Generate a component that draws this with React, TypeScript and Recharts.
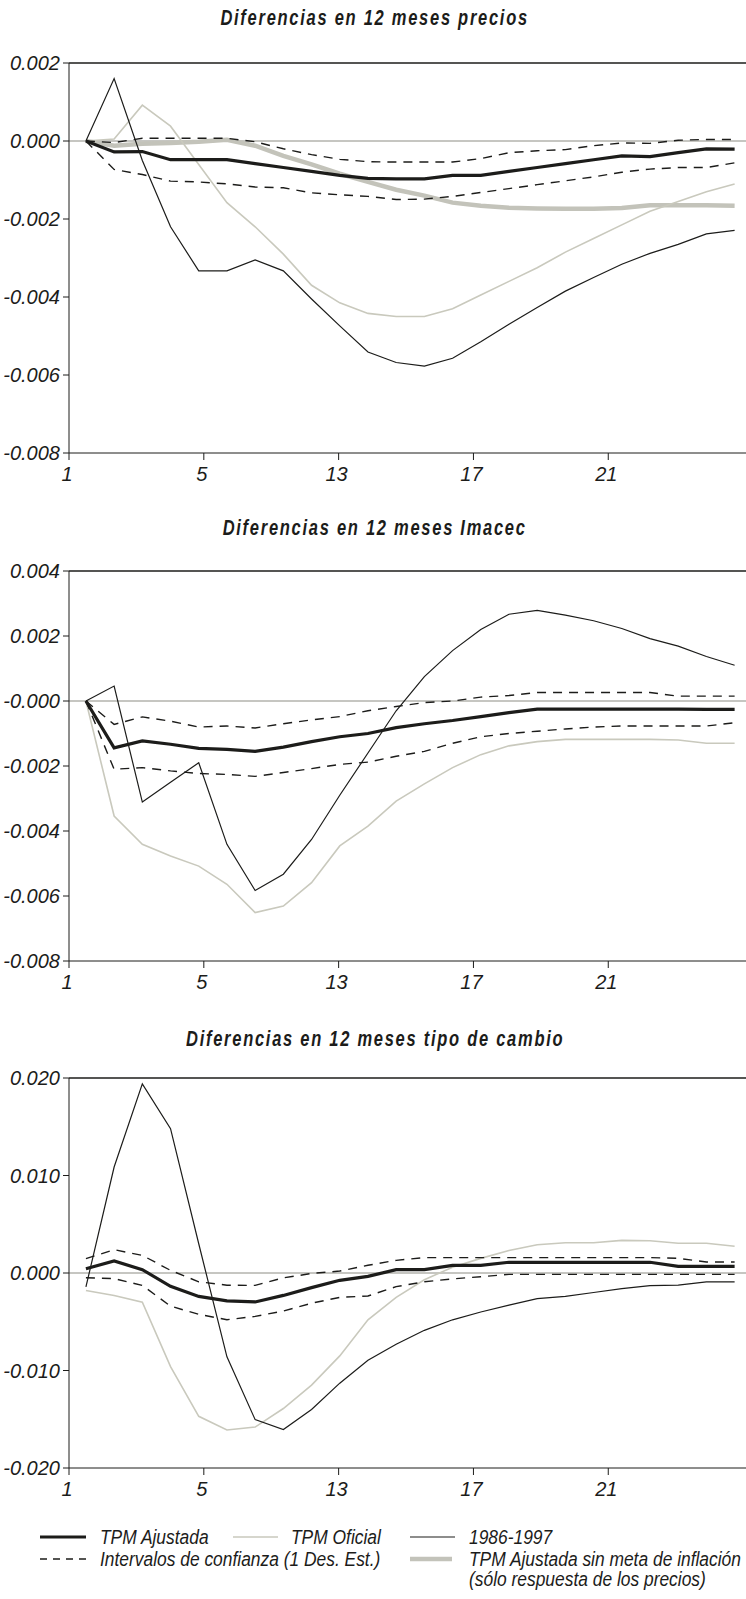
import { LineChart, Line, XAxis, YAxis, ReferenceLine } from "recharts";

// meses del horizonte de respuesta
const MESES = [1, 2, 3, 4, 5, 6, 7, 8, 9, 10, 11, 12, 13, 14, 15, 16, 17, 18, 19, 20, 21, 22, 23, 24];

// eje x: marcas y etiquetas tal como aparecen en el original
const X_TICKS = [0.4, 5.18, 9.96, 14.74, 19.52];
const X_TICK_LABELS = ["1", "5", "13", "17", "21"];

// --- Diferencias en 12 meses precios ---
const ajustada1 = [0, -0.00028, -0.00027, -0.00048, -0.00048, -0.00048, -0.00058, -0.00068, -0.00078, -0.00088, -0.00096, -0.00097, -0.00097, -0.00088, -0.00088, -0.00078, -0.00068, -0.00058, -0.00048, -0.00038, -0.0004, -0.0003, -0.0002, -0.00021];
const superior1 = [0, -0.00004, 0.00007, 0.00007, 0.00007, 0.00007, -0.00002, -0.0002, -0.00035, -0.00047, -0.00053, -0.00054, -0.00054, -0.00054, -0.00045, -0.0003, -0.00025, -0.00022, -0.00012, -0.00005, -0.00006, 0.00002, 0.00004, 0.00004];
const inferior1 = [0, -0.00073, -0.00086, -0.00103, -0.00105, -0.0011, -0.00118, -0.0012, -0.00133, -0.00138, -0.00142, -0.0015, -0.00149, -0.00142, -0.00132, -0.00122, -0.00112, -0.00102, -0.00092, -0.0008, -0.00072, -0.00068, -0.00068, -0.00056];
const oficial1 = [0, 0.00005, 0.00092, 0.00038, -0.0006, -0.00158, -0.0022, -0.0029, -0.0037, -0.00415, -0.00442, -0.0045, -0.0045, -0.0043, -0.00395, -0.0036, -0.00325, -0.00285, -0.0025, -0.00215, -0.0018, -0.00155, -0.0013, -0.0011];
const periodo1 = [0, 0.0016, -0.0005, -0.0022, -0.00333, -0.00333, -0.00305, -0.00333, -0.00405, -0.00474, -0.00541, -0.00568, -0.00577, -0.00557, -0.00515, -0.0047, -0.00427, -0.00385, -0.0035, -0.00316, -0.00288, -0.00265, -0.00238, -0.00229];
const sinMeta1 = [0, -0.00012, -0.00007, -0.00005, -0.00002, 0.00003, -0.00012, -0.00038, -0.0006, -0.00084, -0.00105, -0.00125, -0.0014, -0.00158, -0.00166, -0.00171, -0.00173, -0.00174, -0.00174, -0.00172, -0.00165, -0.00165, -0.00165, -0.00166];
const yTicks1 = [0.002, 0, -0.002, -0.004, -0.006, -0.008];
const yLabels1 = ["0.002", "0.000", "-0.002", "-0.004", "-0.006", "-0.008"];

// --- Diferencias en 12 meses Imacec ---
const ajustada2 = [0, -0.00144, -0.00123, -0.00133, -0.00146, -0.00149, -0.00155, -0.00142, -0.00125, -0.0011, -0.001, -0.00082, -0.0007, -0.0006, -0.00048, -0.00036, -0.00025, -0.00025, -0.00025, -0.00025, -0.00025, -0.00025, -0.00026, -0.00026];
const superior2 = [0, -0.00072, -0.00049, -0.00062, -0.0008, -0.00077, -0.00083, -0.0007, -0.00058, -0.00048, -0.0003, -0.00017, -0.00005, 0, 0.00012, 0.00017, 0.00026, 0.00026, 0.00026, 0.00026, 0.00026, 0.00015, 0.00015, 0.00015];
const inferior2 = [0, -0.0021, -0.00205, -0.00215, -0.00223, -0.00226, -0.00232, -0.0022, -0.00208, -0.00195, -0.00188, -0.0017, -0.00155, -0.0013, -0.0011, -0.001, -0.00093, -0.00086, -0.0008, -0.00077, -0.00077, -0.00077, -0.00077, -0.00067];
const oficial2 = [0, -0.00354, -0.00441, -0.00477, -0.00508, -0.00564, -0.00651, -0.00631, -0.00559, -0.00446, -0.00385, -0.00308, -0.00255, -0.00205, -0.00165, -0.00138, -0.00125, -0.00118, -0.00118, -0.00118, -0.00118, -0.0012, -0.0013, -0.0013];
const periodo2 = [0, 0.00046, -0.00311, -0.0025, -0.0019, -0.00441, -0.00583, -0.00533, -0.00426, -0.0029, -0.0016, -0.0003, 0.00075, 0.00155, 0.0022, 0.00267, 0.00279, 0.00264, 0.00247, 0.00223, 0.00192, 0.00169, 0.00137, 0.0011];
const yTicks2 = [0.004, 0.002, 0, -0.002, -0.004, -0.006, -0.008];
const yLabels2 = ["0.004", "0.002", "-0.000", "-0.002", "-0.004", "-0.006", "-0.008"];

// --- Diferencias en 12 meses tipo de cambio ---
const ajustada3 = [0.00044, 0.00123, 0.00034, -0.00137, -0.0024, -0.00285, -0.00297, -0.0023, -0.0015, -0.00075, -0.00034, 0.00034, 0.00034, 0.00079, 0.00079, 0.0011, 0.0011, 0.0011, 0.0011, 0.0011, 0.0011, 0.00068, 0.00068, 0.00068];
const superior3 = [0.00147, 0.00239, 0.00181, 0.00027, -0.0009, -0.00125, -0.00127, -0.0005, -0.00005, 0.0002, 0.00079, 0.0013, 0.00158, 0.00158, 0.00158, 0.00158, 0.00158, 0.00158, 0.00158, 0.00158, 0.00158, 0.0015, 0.00113, 0.00113];
const inferior3 = [-0.00048, -0.00058, -0.00127, -0.0034, -0.00424, -0.00479, -0.00445, -0.0039, -0.0031, -0.0025, -0.00236, -0.0014, -0.0009, -0.0006, -0.00038, -0.00014, -0.00014, -0.00014, -0.00014, -0.00014, -0.00014, -0.00014, -0.00014, -0.00014];
const oficial3 = [-0.0018, -0.0023, -0.003, -0.0096, -0.0147, -0.0161, -0.0158, -0.0139, -0.0115, -0.0085, -0.0048, -0.0025, -0.0007, 0.0006, 0.0015, 0.0023, 0.0029, 0.0031, 0.0031, 0.00335, 0.0033, 0.00305, 0.00305, 0.00275];
const periodo3 = [-0.00143, 0.01087, 0.0194, 0.0148, 0.003, -0.0086, -0.01504, -0.01606, -0.014, -0.0113, -0.00895, -0.0073, -0.00588, -0.0048, -0.004, -0.0033, -0.00263, -0.0024, -0.002, -0.0016, -0.0013, -0.00125, -0.00092, -0.00092];
const yTicks3 = [0.02, 0.01, 0, -0.01, -0.02];
const yLabels3 = ["0.020", "0.010", "0.000", "-0.010", "-0.020"];

const FONT = "'Liberation Sans', Arial, sans-serif";
const INK = "#1c1c1a";
const OFICIAL = "#c9c9bd";
const SIN_META = "#c3c3ba";

const build = (a: number[], s: number[], i: number[], o: number[], p: number[], m?: number[]) =>
  MESES.map((x, k) => ({ x, ajustada: a[k], sup: s[k], inf: i[k], oficial: o[k], periodo: p[k], sinMeta: m ? m[k] : undefined }));

const data1 = build(ajustada1, superior1, inferior1, oficial1, periodo1, sinMeta1);
const data2 = build(ajustada2, superior2, inferior2, oficial2, periodo2);
const data3 = build(ajustada3, superior3, inferior3, oficial3, periodo3);

// eslint-disable-next-line @typescript-eslint/no-explicit-any
function XTick(props: any) {
  const { x, y, payload } = props;
  const k = X_TICKS.indexOf(payload.value);
  return (
    <text x={x - 2} y={y + 19} textAnchor="middle" fontFamily={FONT} fontStyle="italic" fontSize={20} fill={INK}>
      {X_TICK_LABELS[k]}
    </text>
  );
}

function makeYTick(ticks: number[], labels: string[]) {
  // eslint-disable-next-line @typescript-eslint/no-explicit-any
  return function YTick(props: any) {
    const { x, y, payload } = props;
    const k = ticks.indexOf(payload.value);
    return (
      <text x={x - 1} y={y + 7} textAnchor="end" fontFamily={FONT} fontStyle="italic" fontSize={20} fill={INK}>
        {labels[k]}
      </text>
    );
  };
}

function Panel({ top, titleY, title, data, ticks, labels, sinMeta }: {
  top: number; titleY: number; title: string; data: ReturnType<typeof build>; ticks: number[]; labels: string[]; sinMeta?: boolean;
}) {
  const max = ticks[0];
  const min = ticks[ticks.length - 1];
  return (
    <>
      <div style={{ position: "absolute", left: 0, width: 750, top: titleY - 14, textAlign: "center", lineHeight: "28px" }}>
        <span style={{ display: "inline-block", transform: "scaleX(0.75)", fontFamily: FONT, fontStyle: "italic",
          fontWeight: 700, fontSize: 22, letterSpacing: 2.3, color: INK, whiteSpace: "nowrap" }}>
          {title}
        </span>
      </div>
      <div style={{ position: "absolute", left: 0, top: top - 10 }}>
        <LineChart width={800} height={440} data={data} margin={{ top: 10, right: 40, left: 0, bottom: 0 }}>
          <XAxis type="number" dataKey="x" domain={[0.4, 24.9]} ticks={X_TICKS} interval={0} allowDataOverflow
            height={40} tickSize={7} stroke={INK} tick={<XTick />} />
          <YAxis type="number" domain={[min, max]} ticks={ticks} interval={0} allowDataOverflow width={69}
            tickSize={6} stroke={INK} tick={makeYTick(ticks, labels)} />
          <ReferenceLine y={max} stroke={INK} strokeWidth={1.3} />
          <ReferenceLine y={0} stroke="#8d8d84" strokeWidth={1} />
          {sinMeta && (
            <Line type="linear" dataKey="sinMeta" stroke={SIN_META} strokeWidth={4.5} dot={false} isAnimationActive={false} />
          )}
          <Line type="linear" dataKey="oficial" stroke={OFICIAL} strokeWidth={1.6} dot={false} isAnimationActive={false} />
          <Line type="linear" dataKey="sup" stroke={INK} strokeWidth={1.4} strokeDasharray="9 7" dot={false} isAnimationActive={false} />
          <Line type="linear" dataKey="inf" stroke={INK} strokeWidth={1.4} strokeDasharray="9 7" dot={false} isAnimationActive={false} />
          <Line type="linear" dataKey="periodo" stroke={INK} strokeWidth={1.2} dot={false} isAnimationActive={false} />
          <Line type="linear" dataKey="ajustada" stroke={INK} strokeWidth={3.2} dot={false} isAnimationActive={false} />
        </LineChart>
      </div>
    </>
  );
}

function Etiqueta({ x, y, children }: { x: number; y: number; children: string }) {
  return (
    <text transform={`translate(${x},${y}) scale(0.87,1)`} fontFamily={FONT} fontStyle="italic" fontSize={20} fill={INK}>
      {children}
    </text>
  );
}

function Leyenda() {
  return (
    <svg width={746} height={79} style={{ position: "absolute", left: 0, top: 1520 }}>
      <line x1={40} x2={86} y1={17} y2={17} stroke={INK} strokeWidth={3.2} />
      <Etiqueta x={100} y={24}>TPM Ajustada</Etiqueta>
      <line x1={233} x2={278} y1={17} y2={17} stroke={OFICIAL} strokeWidth={1.6} />
      <Etiqueta x={291} y={24}>TPM Oficial</Etiqueta>
      <line x1={410} x2={455} y1={17} y2={17} stroke={INK} strokeWidth={1.2} />
      <Etiqueta x={469} y={24}>1986-1997</Etiqueta>
      <line x1={40} x2={86} y1={39} y2={39} stroke={INK} strokeWidth={1.4} strokeDasharray="7 6" />
      <Etiqueta x={100} y={46}>Intervalos de confianza (1 Des. Est.)</Etiqueta>
      <line x1={410} x2={452} y1={39} y2={39} stroke={SIN_META} strokeWidth={4.5} />
      <Etiqueta x={469} y={46}>TPM Ajustada sin meta de inflación</Etiqueta>
      <Etiqueta x={469} y={66}>(sólo respuesta de los precios)</Etiqueta>
    </svg>
  );
}

export default function App() {
  return (
    <div style={{ position: "absolute", left: 0, top: 0, width: 746, height: 1599, overflow: "hidden", background: "#fff" }}>
      <Panel top={63} titleY={18} title="Diferencias en 12 meses precios" data={data1} ticks={yTicks1} labels={yLabels1} sinMeta />
      <Panel top={571} titleY={528} title="Diferencias en 12 meses Imacec" data={data2} ticks={yTicks2} labels={yLabels2} />
      <Panel top={1078} titleY={1039} title="Diferencias en 12 meses tipo de cambio" data={data3} ticks={yTicks3} labels={yLabels3} />
      <Leyenda />
    </div>
  );
}
